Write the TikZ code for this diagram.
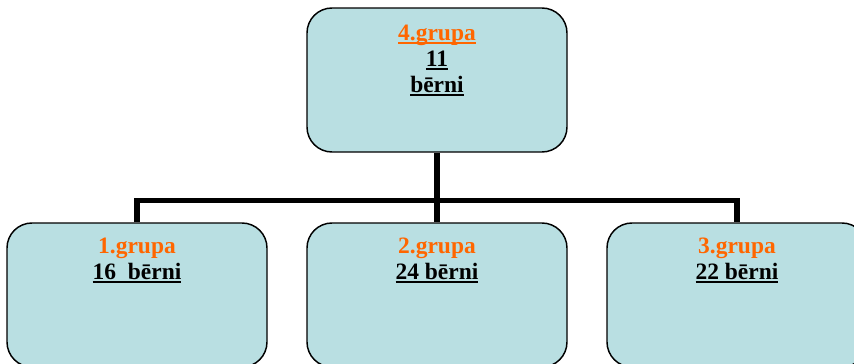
\documentclass[tikz,border=0pt]{standalone}
\usepackage{fontspec}
\setmainfont{Liberation Serif}
\definecolor{grpfill}{RGB}{185,223,226}
\definecolor{grporange}{RGB}{255,102,0}
\newcommand{\uln}[1]{\setbox0\hbox{#1}\rlap{\vrule width\wd0 height -0.9pt depth 2.7pt}\box0}
\tikzset{
	grpbox/.style={draw=black,line width=1.1pt,fill=grpfill,rounded corners=18.75pt,minimum width=195pt,minimum height=108pt,inner sep=0pt},
	grptext/.style={anchor=base,align=center,inner sep=0pt,font=\fontsize{17.6}{19.5}\selectfont\bfseries},
	conn/.style={line width=4.1pt,line join=miter}
}
\begin{document}
\begin{tikzpicture}[x=0.75pt,y=-0.75pt]
				\useasboundingbox (0,0) rectangle (854,364);
				\clip (0,0) rectangle (854,364);
				\coordinate (J) at (437,200.5);
				\node[grpbox] (g4) at (437,80) {};
				\node[grpbox] (g1) at (137,295) {};
				\node[grpbox] (g2) at (437,295) {};
				\node[grpbox] (g3) at (737,295) {};
				\draw[conn] (g4.south) -- (J) -- (g2.north);
				\draw[conn] (g1.north) -- (g1.north |- J) -- (g3.north |- J) -- (g3.north);
				% base anchor sits on the last line
				\node[grptext] (t4) at ([yshift=-63.8pt]g4.north) {\textcolor{grporange}{\uln{4.grupa}}\\\uln{11}\\\uln{bērni}};
				\node[grptext] (t1) at ([yshift=-42.8pt]g1.north) {\textcolor{grporange}{1.grupa}\\\uln{16\ \ bērni}};
				\node[grptext] (t2) at ([yshift=-42.8pt]g2.north) {\textcolor{grporange}{2.grupa}\\\uln{24 bērni}};
				\node[grptext] (t3) at ([yshift=-42.8pt]g3.north) {\textcolor{grporange}{3.grupa}\\\uln{22 bērni}};
\end{tikzpicture}
\end{document}
